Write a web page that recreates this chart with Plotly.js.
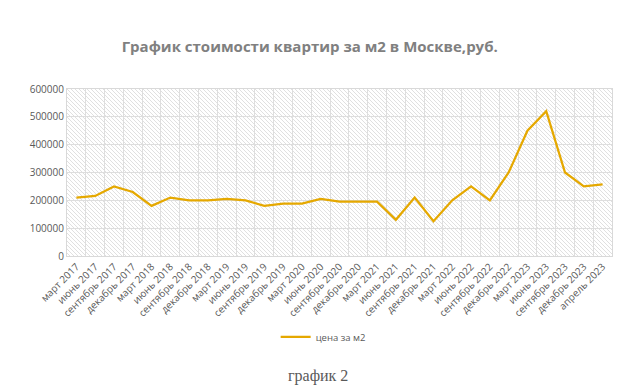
<!DOCTYPE html>
<html><head><meta charset="utf-8">
<script src="https://cdn.plot.ly/plotly-3.0.1.min.js"></script>
<style>html,body{margin:0;padding:0;background:#fff;}#chart{width:636px;height:392px;}</style>
</head><body><div id="chart"></div>
<script>
const categories = ["март 2017","июнь 2017","сентябрь 2017","декабрь 2017","март 2018","июнь 2018","сентябрь 2018","декабрь 2018","март 2019","июнь 2019","сентябрь 2019","декабрь 2019","март 2020","июнь 2020","сентябрь 2020","декабрь 2020","март 2021","июнь 2021","сентябрь 2021","декабрь 2021","март 2022","июнь 2022","сентябрь 2022","декабрь 2022","март 2023","июнь 2023","сентябрь 2023","декабрь 2023","апрель 2023"];
const prices = [210000,216000,250000,230000,180000,210000,200000,200000,205000,200000,180000,188000,188000,205000,195000,195000,195000,130000,210000,125000,200000,250000,200000,300000,450000,520000,300000,250000,257000];
const seriesName = "цена за м2";
const yTicks = [0,100000,200000,300000,400000,500000,600000];

const hatch = 'data:image/svg+xml;utf8,' + encodeURIComponent(
 '<svg xmlns="http://www.w3.org/2000/svg" width="545" height="167">' +
 '<defs><pattern id="p" width="4" height="4" patternUnits="userSpaceOnUse">' +
 '<path d="M-1,-1 L5,5 M-1,3 L1,5 M3,-1 L5,1" stroke="#d6d6d6" stroke-width="0.75"/></pattern></defs>' +
 '<rect width="545" height="167" fill="#ffffff"/><rect width="545" height="167" fill="url(#p)"/></svg>');

const trace = {
  x: categories, y: prices, type: 'scatter', mode: 'lines', name: seriesName,
  line: {color: '#E5A800', width: 2.25}
};
const layout = {
  width: 636, height: 392,
  margin: {l: 67, r: 24, t: 89, b: 136},
  paper_bgcolor: '#ffffff', plot_bgcolor: 'rgba(0,0,0,0)',
  font: {family: 'Open Sans, Liberation Sans, sans-serif', color: '#595959', size: 10},
  title: {text: 'График стоимости квартир за м2 в Москве,руб.', x: 0.487, xanchor: 'center', y: 0.88, yanchor: 'middle',
          font: {family: 'Open Sans, sans-serif', size: 15, color: '#808080', weight: 'bold'}},
  xaxis: {type: 'category', tickangle: -45, tickson: 'boundaries', showgrid: true, gridcolor: '#dedede', gridwidth: 1,
          ticks: '', showline: true, linecolor: '#d9d9d9', mirror: true, tickfont: {size: 10, color: '#595959'},
          range: [-0.5, categories.length - 0.5], fixedrange: true},
  yaxis: {range: [0, 600000], tickvals: yTicks, ticktext: yTicks.map(String), showgrid: true, gridcolor: '#dedede',
          zeroline: false, showline: true, linecolor: '#d9d9d9', mirror: true, ticks: '', tickfont: {size: 10, color: '#595959'}},
  showlegend: true,
  legend: {orientation: 'h', x: 0.47, xanchor: 'center', y: -0.485, yanchor: 'middle', font: {size: 9.5, color: '#595959'}},
  images: [{source: hatch, xref: 'paper', yref: 'paper', x: 0, y: 1, sizex: 1, sizey: 1, xanchor: 'left', yanchor: 'top', sizing: 'stretch', layer: 'below'}],
  annotations: [{text: 'график 2', xref: 'paper', yref: 'paper', x: 0.46, y: -0.72, xanchor: 'center', yanchor: 'middle', showarrow: false,
                 font: {family: 'Liberation Serif, Times New Roman, serif', size: 16, color: '#595959'}}]
};
Plotly.newPlot('chart', [trace], layout, {staticPlot: true, displayModeBar: false});
</script></body></html>
